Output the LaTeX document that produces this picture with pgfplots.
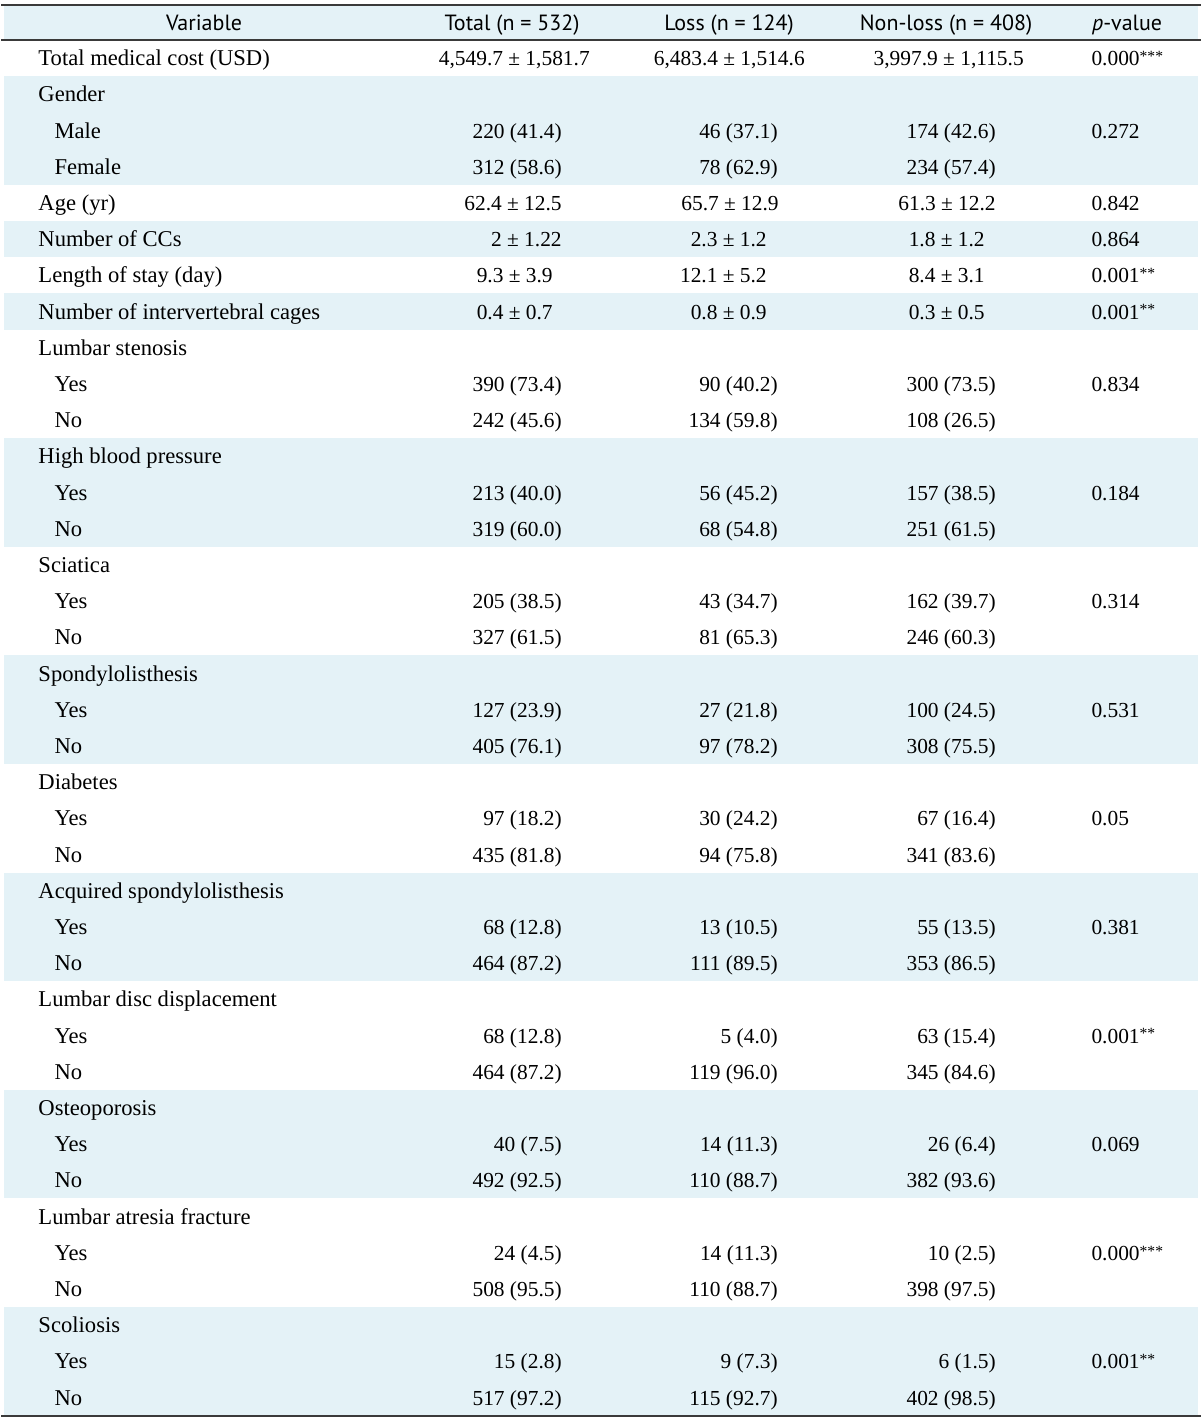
\documentclass[border=0pt]{standalone}
\usepackage{fontspec}
\setmainfont{Liberation Serif}
\newfontfamily\hdr{PT Sans}
\usepackage{pgfplots}
\usepackage{pgfplotstable}
\pgfplotsset{compat=1.18}
\definecolor{band}{HTML}{E4F2F7}
\definecolor{rulec}{HTML}{3A3A3A}
\newcommand{\st}[1]{\raisebox{2.1pt}{\fontsize{7.8}{8}\selectfont #1}}

\pgfplotstableread[col sep=semicolon]{
x;r;t
37;1;Total medical cost (USD)
37;2;Gender
53;3;Male
53;4;Female
37;5;Age (yr)
37;6;Number of CCs
37;7;Length of stay (day)
37;8;Number of intervertebral cages
37;9;Lumbar stenosis
53;10;Yes
53;11;No
37;12;High blood pressure
53;13;Yes
53;14;No
37;15;Sciatica
53;16;Yes
53;17;No
37;18;Spondylolisthesis
53;19;Yes
53;20;No
37;21;Diabetes
53;22;Yes
53;23;No
37;24;Acquired spondylolisthesis
53;25;Yes
53;26;No
37;27;Lumbar disc displacement
53;28;Yes
53;29;No
37;30;Osteoporosis
53;31;Yes
53;32;No
37;33;Lumbar atresia fracture
53;34;Yes
53;35;No
37;36;Scoliosis
53;37;Yes
53;38;No
}\vartab

\pgfplotstableread[col sep=semicolon]{
x;r;t
589;1;4,549.7 ± 1,581.7
561;3;220 (41.4)
561;4;312 (58.6)
561;5;62.4 ± 12.5
561;6;2 ± 1.22
552;7;9.3 ± 3.9
552;8;0.4 ± 0.7
561;10;390 (73.4)
561;11;242 (45.6)
561;13;213 (40.0)
561;14;319 (60.0)
561;16;205 (38.5)
561;17;327 (61.5)
561;19;127 (23.9)
561;20;405 (76.1)
561;22;97 (18.2)
561;23;435 (81.8)
561;25;68 (12.8)
561;26;464 (87.2)
561;28;68 (12.8)
561;29;464 (87.2)
561;31;40 (7.5)
561;32;492 (92.5)
561;34;24 (4.5)
561;35;508 (95.5)
561;37;15 (2.8)
561;38;517 (97.2)
}\tottab

\pgfplotstableread[col sep=semicolon]{
x;r;t
804;1;6,483.4 ± 1,514.6
777;3;46 (37.1)
777;4;78 (62.9)
778;5;65.7 ± 12.9
766;6;2.3 ± 1.2
766;7;12.1 ± 5.2
766;8;0.8 ± 0.9
777;10;90 (40.2)
777;11;134 (59.8)
777;13;56 (45.2)
777;14;68 (54.8)
777;16;43 (34.7)
777;17;81 (65.3)
777;19;27 (21.8)
777;20;97 (78.2)
777;22;30 (24.2)
777;23;94 (75.8)
777;25;13 (10.5)
777;26;111 (89.5)
777;28;5 (4.0)
777;29;119 (96.0)
777;31;14 (11.3)
777;32;110 (88.7)
777;34;14 (11.3)
777;35;110 (88.7)
777;37;9 (7.3)
777;38;115 (92.7)
}\losstab

\pgfplotstableread[col sep=semicolon]{
x;r;t
1023;1;3,997.9 ± 1,115.5
995;3;174 (42.6)
995;4;234 (57.4)
995;5;61.3 ± 12.2
984;6;1.8 ± 1.2
984;7;8.4 ± 3.1
984;8;0.3 ± 0.5
995;10;300 (73.5)
995;11;108 (26.5)
995;13;157 (38.5)
995;14;251 (61.5)
995;16;162 (39.7)
995;17;246 (60.3)
995;19;100 (24.5)
995;20;308 (75.5)
995;22;67 (16.4)
995;23;341 (83.6)
995;25;55 (13.5)
995;26;353 (86.5)
995;28;63 (15.4)
995;29;345 (84.6)
995;31;26 (6.4)
995;32;382 (93.6)
995;34;10 (2.5)
995;35;398 (97.5)
995;37;6 (1.5)
995;38;402 (98.5)
}\nontab

\pgfplotstableread[col sep=semicolon]{
x;r;t
1090;1;0.000\st{***}
1090;3;0.272
1090;5;0.842
1090;6;0.864
1090;7;0.001\st{**}
1090;8;0.001\st{**}
1090;10;0.834
1090;13;0.184
1090;16;0.314
1090;19;0.531
1090;22;0.05
1090;25;0.381
1090;28;0.001\st{**}
1090;31;0.069
1090;34;0.000\st{***}
1090;37;0.001\st{**}
}\ptab

\pgfplotstableread[col sep=semicolon]{
x;r;t
203;0.02;Variable
511;0.02;Total (n = 532)
728;0.02;Loss (n = 124)
945;0.02;Non-loss (n = 408)
1126;0.02;\textit{p}-value
}\hdrtab

\pgfplotsset{
  txt/.style={only marks, mark=none, nodes near coords, point meta=explicit symbolic,
    every node near coord/.style={inner sep=0pt, text=black, anchor=#1, font=\fontsize{10.7}{12}\selectfont}},
}

\begin{document}
\begin{tikzpicture}
\begin{axis}[width=600pt, height=710pt, scale only axis,
  xmin=0, xmax=1200, ymin=-0.605, ymax=38.62, y dir=reverse,
  axis lines=none, clip=false]
% background
\addplot[draw=none, fill=white] coordinates {(0,-0.605) (1200,-0.605) (1200,38.62) (0,38.62)};
% shaded bands
\addplot[draw=none, fill=band] coordinates {(3,-0.44) (1197,-0.44) (1197,0.5) (3,0.5)};
\addplot[draw=none, fill=band] coordinates {(3,1.5) (1197,1.5) (1197,4.5) (3,4.5)};
\addplot[draw=none, fill=band] coordinates {(3,5.5) (1197,5.5) (1197,6.5) (3,6.5)};
\addplot[draw=none, fill=band] coordinates {(3,7.5) (1197,7.5) (1197,8.5) (3,8.5)};
\addplot[draw=none, fill=band] coordinates {(3,11.5) (1197,11.5) (1197,14.5) (3,14.5)};
\addplot[draw=none, fill=band] coordinates {(3,17.5) (1197,17.5) (1197,20.5) (3,20.5)};
\addplot[draw=none, fill=band] coordinates {(3,23.5) (1197,23.5) (1197,26.5) (3,26.5)};
\addplot[draw=none, fill=band] coordinates {(3,29.5) (1197,29.5) (1197,32.5) (3,32.5)};
\addplot[draw=none, fill=band] coordinates {(3,35.5) (1197,35.5) (1197,38.5) (3,38.5)};
% rules
\addplot[rulec, line width=1pt] coordinates {(0,-0.467) (1200,-0.467)};
\addplot[rulec, line width=0.6pt] coordinates {(0,0.5) (1200,0.5)};
\addplot[rulec, line width=1.1pt] coordinates {(0,38.5) (1200,38.5)};
% text
\addplot[txt={base west}, every node near coord/.append style={font=\fontsize{11.3}{13}\selectfont}] table[x=x, y expr=\thisrow{r}+0.21, meta=t] {\vartab};
\addplot[txt={base east}] table[x=x, y expr=\thisrow{r}+0.21, meta=t] {\tottab};
\addplot[txt={base east}] table[x=x, y expr=\thisrow{r}+0.21, meta=t] {\losstab};
\addplot[txt={base east}] table[x=x, y expr=\thisrow{r}+0.21, meta=t] {\nontab};
\addplot[txt={base west}] table[x=x, y expr=\thisrow{r}+0.21, meta=t] {\ptab};
\addplot[txt={base}, every node near coord/.append style={font=\hdr\fontsize{11}{13}\selectfont, text=black}] table[x=x, y expr=\thisrow{r}+0.21, meta=t] {\hdrtab};
\end{axis}
\end{tikzpicture}
\end{document}
